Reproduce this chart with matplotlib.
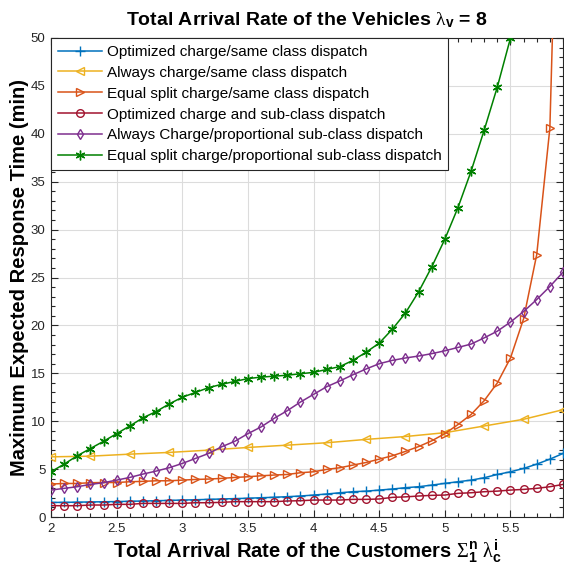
import matplotlib
matplotlib.use("Agg")
import matplotlib.pyplot as plt
from matplotlib.ticker import MultipleLocator

plt.rcParams['font.family'] = ['Liberation Sans', 'DejaVu Sans']
plt.rcParams['mathtext.fontset'] = 'custom'
plt.rcParams['mathtext.rm'] = 'Liberation Serif'
plt.rcParams['mathtext.it'] = 'Liberation Serif'
plt.rcParams['mathtext.bf'] = 'Liberation Sans:bold'

x_vals = [2.0, 2.1, 2.2, 2.3, 2.4, 2.5, 2.6, 2.7, 2.8, 2.9,
          3.0, 3.1, 3.2, 3.3, 3.4, 3.5, 3.6, 3.7, 3.8, 3.9,
          4.0, 4.1, 4.2, 4.3, 4.4, 4.5, 4.6, 4.7, 4.8, 4.9,
          5.0, 5.1, 5.2, 5.3, 5.4, 5.5, 5.6, 5.7, 5.8, 5.9]
x_always = [2.0, 2.3, 2.6, 2.9, 3.2, 3.5, 3.8, 4.1, 4.4, 4.7, 5.0, 5.3, 5.6, 5.9]

opt_same = [1.52, 1.53, 1.55, 1.57, 1.59, 1.61, 1.64, 1.67, 1.70, 1.73,
            1.77, 1.80, 1.84, 1.88, 1.92, 1.96, 2.01, 2.06, 2.12, 2.19,
            2.29, 2.40, 2.53, 2.64, 2.70, 2.81, 2.92, 3.06, 3.16, 3.33,
            3.51, 3.68, 3.85, 4.10, 4.44, 4.72, 5.07, 5.52, 6.04, 6.63]
always_same = [6.28, 6.35, 6.56, 6.74, 6.98, 7.26, 7.5, 7.75, 8.1, 8.4,
               8.8, 9.5, 10.2, 11.2]
equal_same = [3.44, 3.5, 3.5, 3.58, 3.6, 3.6, 3.68, 3.72, 3.78, 3.78,
              3.85, 3.92, 3.96, 4.03, 4.13, 4.2, 4.3, 4.38, 4.44, 4.62,
              4.72, 4.97, 5.14, 5.42, 5.69, 6.04, 6.39, 6.85, 7.35, 7.95,
              8.7, 9.65, 10.7, 12.15, 14.0, 16.6, 20.7, 27.4, 40.6, 90.0]
opt_sub = [1.18, 1.18, 1.18, 1.25, 1.25, 1.32, 1.32, 1.42, 1.42, 1.42,
           1.42, 1.49, 1.49, 1.53, 1.6, 1.6, 1.6, 1.6, 1.67, 1.7,
           1.77, 1.77, 1.77, 1.84, 1.84, 1.88, 2.05, 2.1, 2.19, 2.26,
           2.29, 2.47, 2.53, 2.64, 2.7, 2.81, 2.88, 2.99, 3.16, 3.4]
always_sub = [2.81, 2.99, 3.16, 3.4, 3.58, 3.85, 4.13, 4.48, 4.79, 5.14,
              5.59, 6.11, 6.63, 7.33, 7.9, 8.7, 9.4, 10.3, 11.1, 12.0,
              12.8, 13.6, 14.2, 14.85, 15.45, 16.0, 16.35, 16.6, 16.8, 17.05,
              17.35, 17.7, 18.05, 18.7, 19.4, 20.35, 21.45, 22.7, 24.06, 25.55]
equal_sub = [4.72, 5.52, 6.39, 7.15, 7.9, 8.7, 9.5, 10.35, 11.0, 11.8,
             12.5, 13.0, 13.5, 13.85, 14.15, 14.45, 14.6, 14.7, 14.8, 14.95,
             15.1, 15.4, 15.7, 16.35, 17.2, 18.15, 19.6, 21.3, 23.5, 26.1,
             29.0, 32.3, 36.1, 40.4, 44.9, 50.0]

labels = ["Optimized charge/same class dispatch",
          "Always charge/same class dispatch",
          "Equal split charge/same class dispatch",
          "Optimized charge and sub-class dispatch",
          "Always Charge/proportional sub-class dispatch",
          "Equal split charge/proportional sub-class dispatch"]

x_ticks = [2, 2.5, 3, 3.5, 4, 4.5, 5, 5.5]
x_ticklabels = ["2", "2.5", "3", "3.5", "4", "4.5", "5", "5.5"]
y_ticks = [0, 5, 10, 15, 20, 25, 30, 35, 40, 45, 50]

fig = plt.figure(figsize=(5.64, 5.81), dpi=100)
ax = fig.add_axes([51/564, 64/581, 512/564, 479/581])

asterisk = (6, 2, 0)
series = [
    (x_vals, opt_same, '#0072BD', '+', 7),
    (x_always, always_same, '#EDB120', '<', 5.5),
    (x_vals, equal_same, '#D95319', '>', 5.5),
    (x_vals[:len(opt_sub)], opt_sub, '#A2142F', 'o', 5.5),
    (x_vals, always_sub, '#7E2F8E', 'd', 5.5),
    (x_vals[:len(equal_sub)], equal_sub, '#008000', asterisk, 7),
]
for (xs, ys, c, m, ms), lab in zip(series, labels):
    ax.plot(xs, ys, color=c, marker=m, markersize=ms, markerfacecolor='none',
            markeredgecolor=c, markeredgewidth=1.0, linewidth=1.1, label=lab, zorder=3)

ax.set_xlim(2, 5.9)
ax.set_ylim(0, 50)
ax.set_xticks(x_ticks)
ax.set_xticklabels(x_ticklabels)
ax.set_yticks(y_ticks)
ax.xaxis.set_minor_locator(MultipleLocator(0.1))
ax.yaxis.set_minor_locator(MultipleLocator(1))
ax.tick_params(which='both', direction='in', top=True, right=True,
               labelsize=9.5, colors='#262626', labelcolor='#262626', width=0.8)
ax.tick_params(which='major', length=5, pad=4)
ax.tick_params(which='minor', length=3)
ax.grid(True, which='major', color='#dcdcdc', linewidth=0.8, zorder=0)
ax.set_axisbelow(True)
for s in ax.spines.values():
    s.set_color('#262626')
    s.set_linewidth(0.8)

ax.set_title(r'Total Arrival Rate of the Vehicles $\lambda_{\mathbf{v}}$ = 8',
             fontsize=14, fontweight='bold', pad=9)
ax.set_xlabel(r'Total Arrival Rate of the Customers $\Sigma_{\mathbf{1}}^{\mathbf{n}}\ \lambda_{\mathbf{c}}^{\mathbf{i}}$',
              fontsize=14.5, fontweight='bold', labelpad=2)
ax.set_ylabel('Maximum Expected Response Time (min)', fontsize=14.5,
              fontweight='bold', labelpad=1)

leg = ax.legend(loc='upper left', fontsize=11, frameon=True, fancybox=False,
                edgecolor='#262626', framealpha=1, borderaxespad=0.0,
                handlelength=2.9, handletextpad=0.3, labelspacing=0.45,
                borderpad=0.45)
leg.get_frame().set_linewidth(0.8)

fig.savefig('out.png', dpi=100)
